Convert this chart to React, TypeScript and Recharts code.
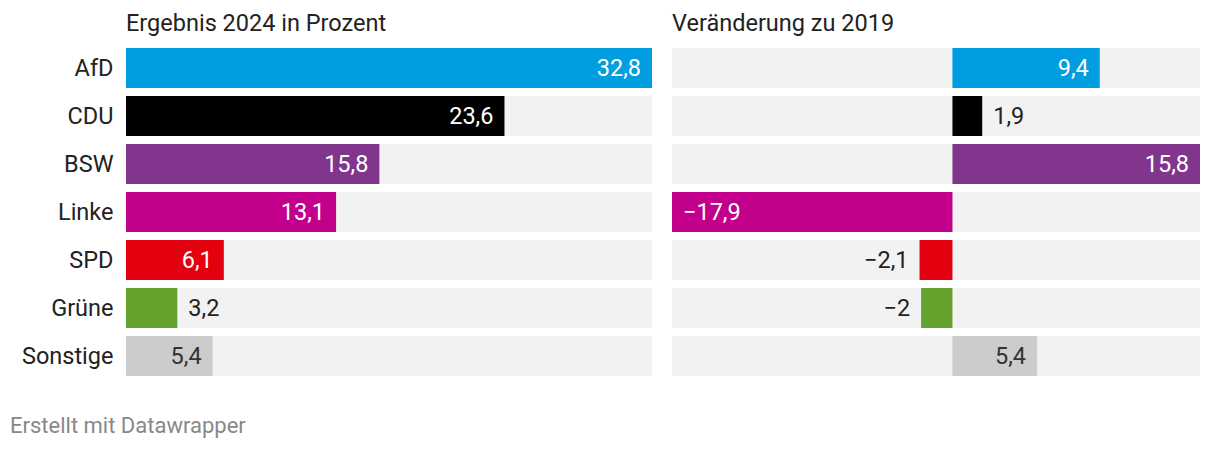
import { BarChart, Bar, XAxis, YAxis, LabelList, Cell } from 'recharts';

const parties = ['AfD', 'CDU', 'BSW', 'Linke', 'SPD', 'Grüne', 'Sonstige'];
const result2024 = [32.8, 23.6, 15.8, 13.1, 6.1, 3.2, 5.4];
const change2019 = [9.4, 1.9, 15.8, -17.9, -2.1, -2, 5.4];

const PARTY_COLORS: Record<string, string> = {
  AfD: '#009ee0',
  CDU: '#000000',
  BSW: '#82358c',
  Linke: '#c3008b',
  SPD: '#e3000f',
  Grüne: '#64a12d',
  Sonstige: '#cccccc',
};
// text colour for labels drawn inside a light bar
const INSIDE_TEXT: Record<string, string> = { Sonstige: '#333333' };

const FONT_SIZE = 23.5;

const rows = parties.map((name, i) => ({
  name,
  result: result2024[i],
  change: change2019[i],
}));

const fmt = (v: number) =>
  String(v).replace('.', ',').replace('-', '\u2212');

const renderLabel = (props: any) => {
  const { x, y, width, height, value, index } = props;
  const x0 = Number(x);
  const w0 = Number(width);
  const left = Math.min(x0, x0 + w0);
  const right = Math.max(x0, x0 + w0);
  const neg = Number(value) < 0;
  const inside = right - left > 65;
  const party = parties[index];
  let tx: number;
  let anchor: 'start' | 'end';
  let fill = '#222';
  if (inside) {
    fill = INSIDE_TEXT[party] ?? '#ffffff';
    tx = neg ? left + 11 : right - 11;
    anchor = neg ? 'start' : 'end';
  } else {
    tx = neg ? left - 11 : right + 11;
    anchor = neg ? 'end' : 'start';
  }
  return (
    <text
      x={tx}
      y={Number(y) + Number(height) / 2}
      dy='0.36em'
      textAnchor={anchor}
      fill={fill}
      fontSize={FONT_SIZE}
    >
      {fmt(Number(value))}
    </text>
  );
};

const titleStyle: React.CSSProperties = {
  position: 'absolute',
  top: 12,
  fontSize: FONT_SIZE,
  lineHeight: `${FONT_SIZE}px`,
  color: '#222',
  whiteSpace: 'nowrap',
};

export default function App() {
  return (
    <div
      style={{
        position: 'absolute',
        left: 0,
        top: 0,
        width: 1220,
        height: 452,
        background: '#fff',
        fontFamily: 'Roboto, sans-serif',
      }}
    >
      <div style={{ ...titleStyle, left: 126 }}>Ergebnis 2024 in Prozent</div>
      <div style={{ ...titleStyle, left: 672 }}>Veränderung zu 2019</div>

      <div style={{ position: 'absolute', left: 0, top: 0 }}>
        <BarChart
          width={660}
          height={380}
          data={rows}
          layout='vertical'
          margin={{ top: 44, right: 8, bottom: 0, left: 0 }}
          barSize={40}
        >
          <XAxis type='number' domain={[0, 32.8]} hide />
          <YAxis
            type='category'
            dataKey='name'
            width={126}
            axisLine={false}
            tickLine={false}
            tickSize={0}
            tickMargin={12.5}
            interval={0}
            tick={{ fill: '#222', fontSize: FONT_SIZE }}
          />
          <Bar
            dataKey='result'
            background={{ fill: '#f2f2f2' }}
            isAnimationActive={false}
          >
            {rows.map((r) => (
              <Cell key={r.name} fill={PARTY_COLORS[r.name]} />
            ))}
            <LabelList dataKey='result' content={renderLabel} />
          </Bar>
        </BarChart>
      </div>

      <div style={{ position: 'absolute', left: 672, top: 0 }}>
        <BarChart
          width={536}
          height={380}
          data={rows}
          layout='vertical'
          margin={{ top: 44, right: 8, bottom: 0, left: 0 }}
          barSize={40}
        >
          <XAxis type='number' domain={[-17.9, 15.8]} hide />
          <YAxis type='category' dataKey='name' hide />
          <Bar
            dataKey='change'
            background={{ fill: '#f2f2f2' }}
            isAnimationActive={false}
          >
            {rows.map((r) => (
              <Cell key={r.name} fill={PARTY_COLORS[r.name]} />
            ))}
            <LabelList dataKey='change' content={renderLabel} />
          </Bar>
        </BarChart>
      </div>

      <div
        style={{
          position: 'absolute',
          left: 10,
          top: 415,
          fontSize: 22,
          lineHeight: '22px',
          color: '#888',
          whiteSpace: 'nowrap',
        }}
      >
        Erstellt mit Datawrapper
      </div>
    </div>
  );
}
